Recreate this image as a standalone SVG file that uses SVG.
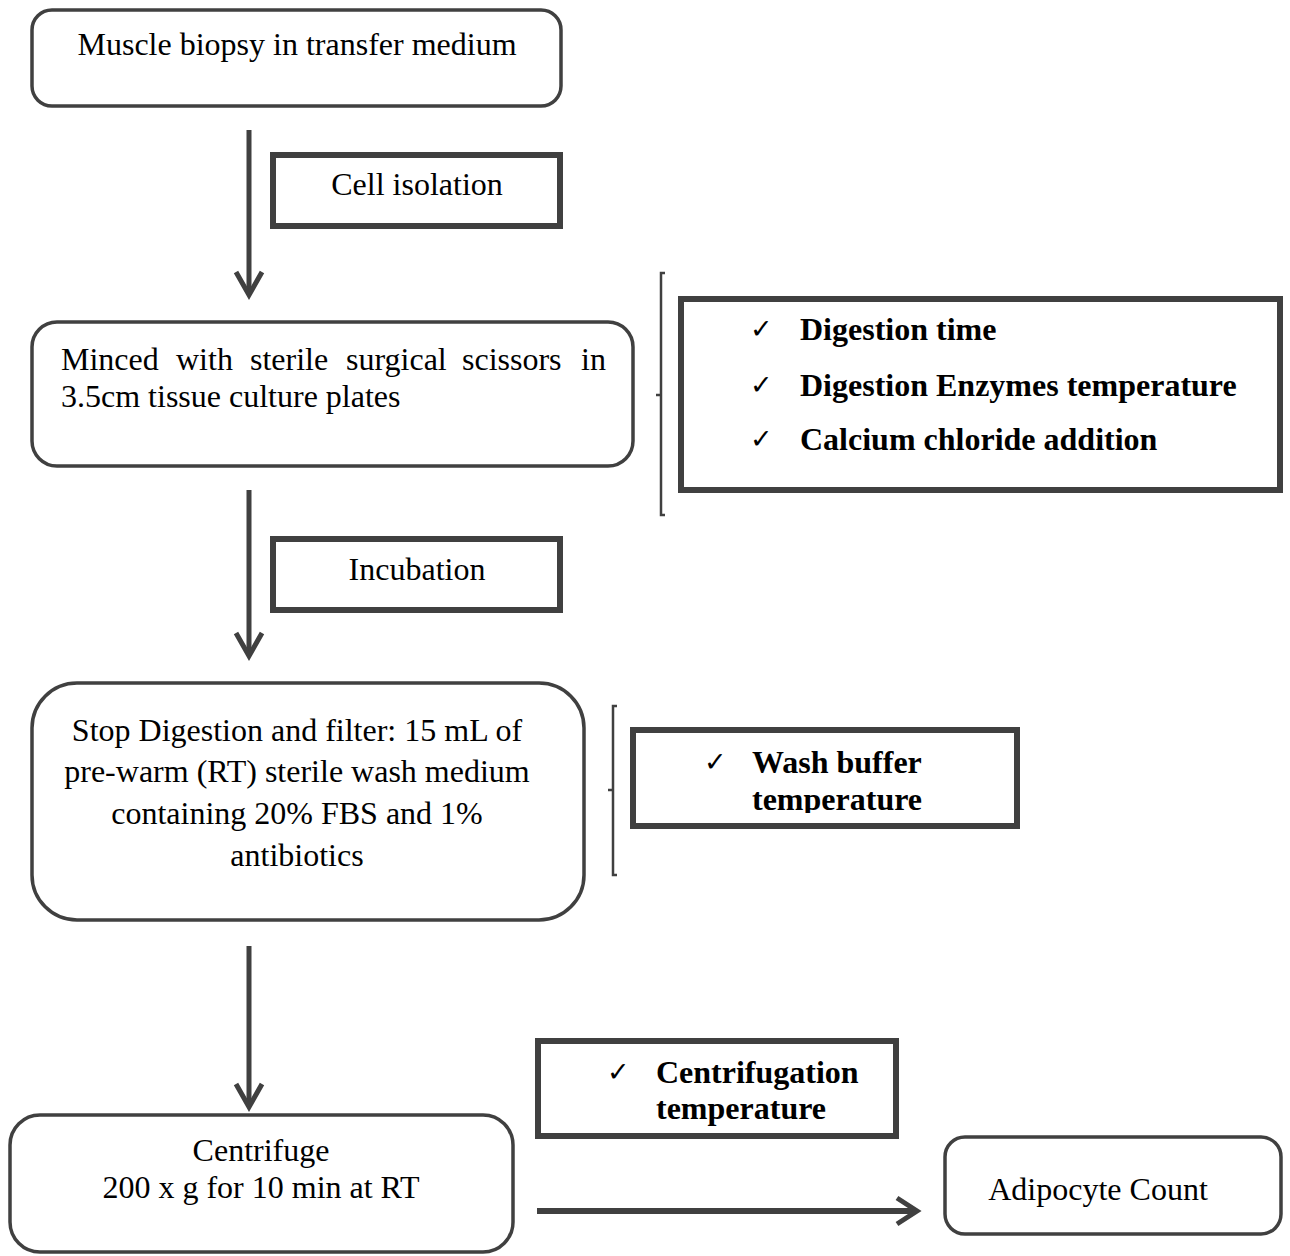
<svg xmlns="http://www.w3.org/2000/svg" width="1290" height="1256" viewBox="0 0 1290 1256">
<style>
.node{fill:#fff;stroke:#404040;stroke-width:3.5}
.box{fill:#fff;stroke:#404040;stroke-width:6}
.t{font-family:"Liberation Serif","Times New Roman",serif;font-size:32px;fill:#000}
.b{font-family:"Liberation Serif","Times New Roman",serif;font-size:32px;font-weight:bold;fill:#000}
.ck{font-family:"DejaVu Sans",sans-serif;font-size:27px;fill:#000}
.ln{fill:none;stroke:#404040;stroke-width:5}
.br{fill:none;stroke:#404040;stroke-width:2.5}
</style>
<defs>
<clipPath id="washclip"><rect x="632" y="730" width="386" height="83"/></clipPath>
</defs>
<g id="connectors">
<line class="ln" x1="249" y1="130" x2="249" y2="295"/>
<polyline class="ln" points="236,272 249,295 262,272"/>
<line class="ln" x1="249" y1="490" x2="249" y2="656"/>
<polyline class="ln" points="236,633 249,656 262,633"/>
<line class="ln" x1="249" y1="946" x2="249" y2="1107"/>
<polyline class="ln" points="236,1084 249,1107 262,1084"/>
<line class="ln" x1="537" y1="1211" x2="917" y2="1211" style="stroke-width:6"/>
<polyline class="ln" points="897,1198 917,1211 897,1224"/>
<path class="br" d="M665,273 H661 V515 H665 M661,395 H656"/>
<path class="br" d="M617,706 H613 V875 H617 M613,790 H608"/>
</g>
<g id="n1">
<rect class="node" x="32" y="10" width="529" height="96" rx="20"/>
<text class="t" x="297" y="55" text-anchor="middle">Muscle biopsy in transfer medium</text>
</g>
<g id="l1">
<rect class="box" x="273" y="155" width="287" height="71"/>
<text class="t" x="417" y="195" text-anchor="middle">Cell isolation</text>
</g>
<g id="n2">
<rect class="node" x="32" y="322" width="601" height="144" rx="25"/>
<text class="t" y="370"><tspan x="61">Minced</tspan><tspan x="176">with</tspan><tspan x="250">sterile</tspan><tspan x="346">surgical</tspan><tspan x="462">scissors</tspan><tspan x="581">in</tspan></text>
<text class="t" x="61" y="407">3.5cm tissue culture plates</text>
</g>
<g id="c1">
<rect class="box" x="681" y="299" width="599" height="191"/>
<text class="ck" x="750" y="338">✓</text>
<text class="b" x="800" y="340">Digestion time</text>
<text class="ck" x="750" y="394">✓</text>
<text class="b" x="800" y="396">Digestion Enzymes temperature</text>
<text class="ck" x="750" y="448">✓</text>
<text class="b" x="800" y="450">Calcium chloride addition</text>
</g>
<g id="l2">
<rect class="box" x="273" y="539" width="287" height="71"/>
<text class="t" x="417" y="580" text-anchor="middle">Incubation</text>
</g>
<g id="n3">
<rect class="node" x="32" y="683" width="552" height="237" rx="45"/>
<text class="t" x="297" y="741" text-anchor="middle">Stop Digestion and filter: 15 mL of</text>
<text class="t" x="297" y="782" text-anchor="middle">pre-warm (RT) sterile wash medium</text>
<text class="t" x="297" y="824" text-anchor="middle">containing 20% FBS and 1%</text>
<text class="t" x="297" y="866" text-anchor="middle">antibiotics</text>
</g>
<g id="c2">
<rect class="box" x="633" y="730" width="384" height="96"/>
<text class="ck" x="704" y="771">✓</text>
<g clip-path="url(#washclip)">
<text class="b" x="752" y="773">Wash buffer</text>
<text class="b" x="752" y="810">temperature</text>
</g>
</g>
<g id="n4">
<rect class="node" x="10" y="1115" width="503" height="137" rx="30"/>
<text class="t" x="261" y="1161" text-anchor="middle">Centrifuge</text>
<text class="t" x="261" y="1198" text-anchor="middle">200 x g for 10 min at RT</text>
</g>
<g id="c3">
<rect class="box" x="538" y="1041" width="358" height="95"/>
<text class="ck" x="607" y="1081">✓</text>
<text class="b" x="656" y="1083">Centrifugation</text>
<text class="b" x="656" y="1119">temperature</text>
</g>
<g id="n5">
<rect class="node" x="945" y="1137" width="336" height="97" rx="20"/>
<text class="t" x="1098" y="1200" text-anchor="middle">Adipocyte Count</text>
</g>
</svg>
